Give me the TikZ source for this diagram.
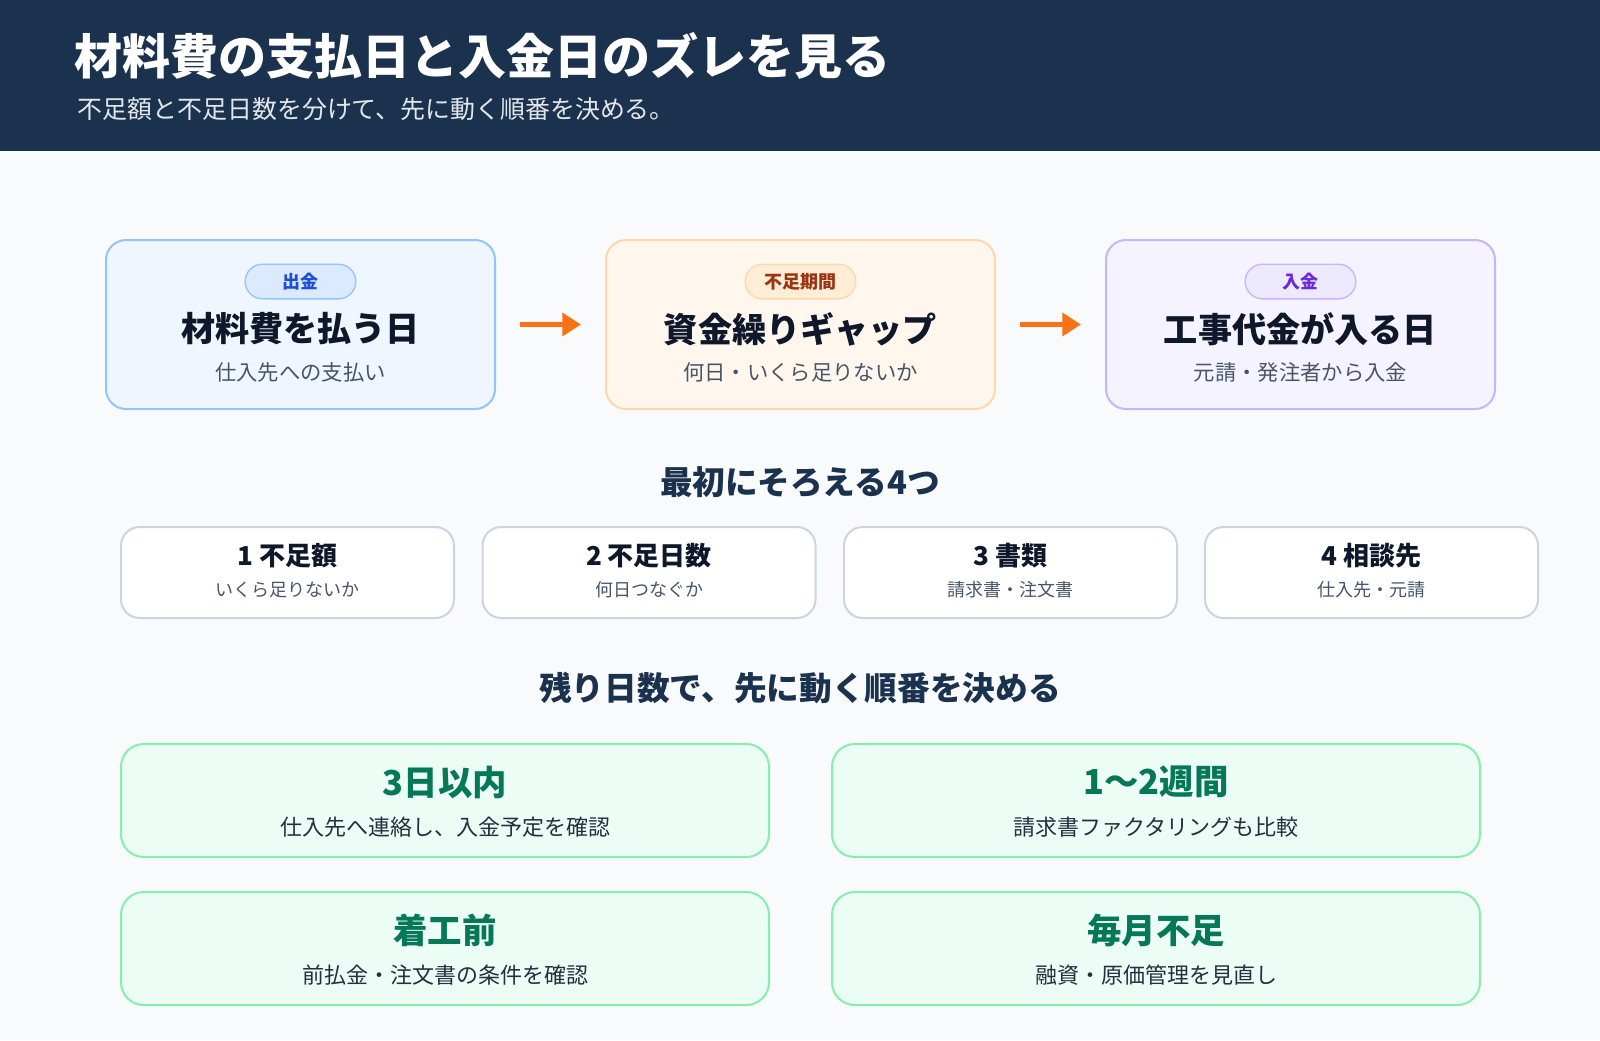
\documentclass[tikz,border=0pt]{standalone}
\usepackage{fontspec}
\setmainfont{Noto Sans CJK JP}
\usetikzlibrary{arrows.meta}
\definecolor{navy}{HTML}{1B324F}
\definecolor{bgc}{HTML}{F8FAFC}
\definecolor{ink}{HTML}{0F172A}
\definecolor{subc}{HTML}{475569}
\definecolor{bluef}{HTML}{EFF6FF}\definecolor{blued}{HTML}{93C5FD}\definecolor{bluep}{HTML}{DBEAFE}\definecolor{bluet}{HTML}{1D4ED8}
\definecolor{orf}{HTML}{FFF7ED}\definecolor{ord}{HTML}{FED7AA}\definecolor{orp}{HTML}{FFEDD5}\definecolor{ort}{HTML}{9A3412}
\definecolor{puf}{HTML}{F5F3FF}\definecolor{pud}{HTML}{C4B5FD}\definecolor{pup}{HTML}{EDE9FE}\definecolor{put}{HTML}{6D28D9}
\definecolor{grf}{HTML}{ECFDF5}\definecolor{grd}{HTML}{86EFAC}\definecolor{grt}{HTML}{047857}
\definecolor{boxd}{HTML}{CBD5E1}
\definecolor{arrc}{HTML}{F97316}
\newcommand{\fs}[1]{\fontsize{#1}{1.2\dimexpr#1\relax}\selectfont}

\begin{document}
\begin{tikzpicture}[x=0.75pt,y=-0.75pt,
  card/.style={draw,line width=1.5pt,rounded corners=15pt,minimum width=291.75pt,minimum height=126.75pt},
  pill/.style={draw,line width=1pt,rounded corners=13pt,minimum width=83pt,minimum height=26pt,font=\fs{13.5pt}\bfseries},
  big/.style={font=\fs{25.6pt}\bfseries,text=ink},
  small/.style={font=\fs{16pt},text=subc},
  item/.style={draw=boxd,fill=white,line width=1.5pt,rounded corners=14pt,minimum width=249.75pt,minimum height=68.25pt},
  prio/.style={draw=grd,fill=grf,line width=1.5pt,rounded corners=17pt,minimum width=486pt,minimum height=84.75pt},
  head/.style={font=\fs{24.5pt}\bfseries,text=navy},
  arr/.style={-{Triangle[length=14pt,width=17pt]},line width=4pt,arrc,shorten <=18pt,shorten >=18pt}]
\useasboundingbox (0,0) rectangle (1600,1040);
\fill[bgc] (0,0) rectangle (1600,1040);
\fill[navy] (0,0) rectangle (1600,151);
\node[anchor=west,text=white,font=\fs{36pt}\bfseries] (title) at (70,56) {材料費の支払日と入金日のズレを見る};
\node[anchor=west,text=white!88!navy,font=\fs{18.7pt}] (subtitle) at (73,109) {不足額と不足日数を分けて、先に動く順番を決める。};
% flow
\node[card,draw=blued,fill=bluef] (pay) at (300.5,324.5) {};
\node[card,draw=ord,fill=orf] (gap) at (800.5,324.5) {};
\node[card,draw=pud,fill=puf] (recv) at (1300.5,324.5) {};
\node[pill,draw=blued,fill=bluep,text=bluet] (payTag) at (300.5,281.5) {出金};
\node[pill,draw=ord,fill=orp,text=ort] (gapTag) at (800.5,281.5) {不足期間};
\node[pill,draw=pud,fill=pup,text=put] (recvTag) at (1300.5,281.5) {入金};
\node[big] (payMain) at (300.5,329) {材料費を払う日};
\node[big] (gapMain) at (800.5,329) {資金繰りギャップ};
\node[big] (recvMain) at (1300.5,329) {工事代金が入る日};
\node[small] (paySub) at (300.5,372) {仕入先への支払い};
\node[small] (gapSub) at (800.5,372) {何日・いくら足りないか};
\node[small] (recvSub) at (1300.5,372) {元請・発注者から入金};
\draw[arr] (pay) -- (gap);
\draw[arr] (gap) -- (recv);
% four items
\node[head] (fourHead) at (800,482) {最初にそろえる4つ};
\foreach \x/\n/\t/\s in {287.5/1/不足額/いくら足りないか,649/2/不足日数/何日つなぐか,1010.5/3/書類/請求書・注文書,1371.5/4/相談先/仕入先・元請}{
  \node[item] (item\n) at (\x,572.5) {};
  \node[font=\fs{19.5pt}\bfseries,text=ink] (item\n Title) at (\x,556) {\n\ \t};
  \node[font=\fs{13.5pt},text=subc] (item\n Sub) at (\x,590) {\s};
}
% priorities
\node[head] (prioHead) at (800,688) {残り日数で、先に動く順番を決める};
\foreach \x/\y/\n/\t/\s in {445/800.5/a/3日以内/仕入先へ連絡し、入金予定を確認,1156/800.5/b/1〜2週間/請求書ファクタリングも比較,445/948.5/c/着工前/前払金・注文書の条件を確認,1156/948.5/d/毎月不足/融資・原価管理を見直し}{
  \node[prio] (prio\n) at (\x,\y) {};
  \node[font=\fs{25.8pt}\bfseries,text=grt] (prio\n Title) at (\x,\y-18.5) {\t};
  \node[font=\fs{16.5pt},text=ink!90] (prio\n Sub) at (\x,\y+26.5) {\s};
}
\end{tikzpicture}
\end{document}
